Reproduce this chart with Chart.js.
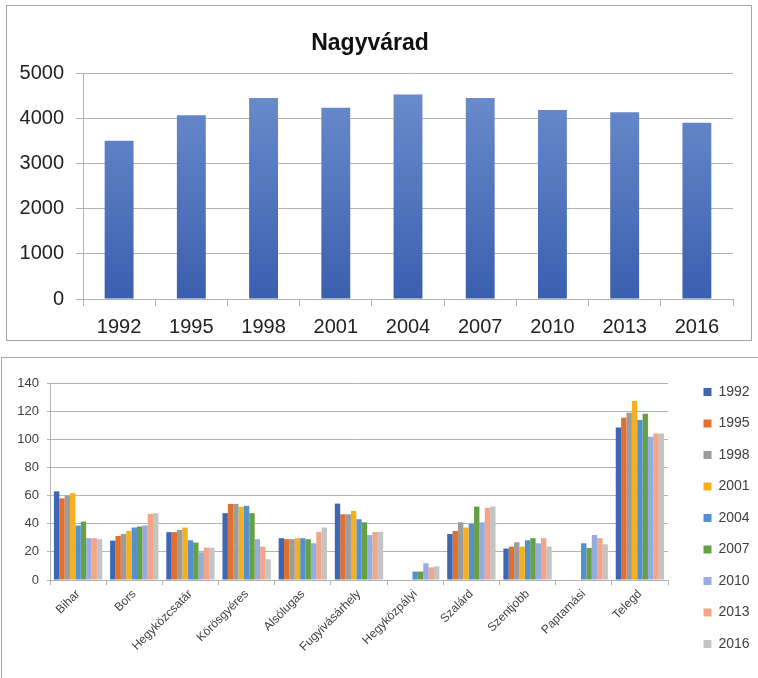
<!DOCTYPE html>
<html>
<head>
<meta charset="utf-8">
<script src="https://cdn.jsdelivr.net/npm/chart.js@4.4.1/dist/chart.umd.min.js"></script>
<style>
  html, body { margin: 0; padding: 0; background: #fff; overflow: hidden; width: 758px; height: 678px; }
  .panel { position: absolute; box-sizing: border-box; border: 1px solid #a6a6a6; }
  canvas { position: absolute; }
</style>
</head>
<body>
<div class="panel" style="left:6px;top:5px;width:746px;height:336px;"></div>
<div class="panel" style="left:1px;top:357px;width:800px;height:400px;"></div>
<canvas id="topChart" width="744" height="333" style="left:7px;top:6px;"></canvas>
<canvas id="bottomChart" width="756" height="320" style="left:2px;top:358px;"></canvas>
<script>
// Nagyvárad totals
var years = ["1992", "1995", "1998", "2001", "2004", "2007", "2010", "2013", "2016"];
var nagyvarad = [3510, 4075, 4460, 4240, 4535, 4460, 4195, 4140, 3910];

// settlements
var places = ["Bihar", "Bors", "Hegyközcsatár", "Körösgyéres", "Alsólugas", "Fugyivásárhely",
              "Hegyközpályi", "Szalárd", "Szentjobb", "Paptamási", "Telegd"];
var v1992 = [63, 28, 34, 47.5, 29.7, 54.3, null, 32.7, 22.3, null, 108.4];
var v1995 = [58, 31.3, 34, 54.1, 29, 46.7, null, 34.9, 23.7, null, 115.3];
var v1998 = [60, 32.7, 35.6, 54.1, 29, 46.7, null, 41, 26.8, null, 118.9];
var v2001 = [61.7, 34.9, 37.3, 52, 29.7, 49.1, null, 37.3, 23.7, null, 127.2];
var v2004 = [38.7, 37.3, 28.2, 52.7, 29.7, 43.2, 6, 39.9, 28.2, 26.1, 113.7];
var v2007 = [41.5, 38, 26.6, 47.5, 29, 41, 6, 52.2, 29.7, 22.8, 118.2];
var v2010 = [29.7, 38.7, 19.7, 29, 26.1, 32, 11.9, 41, 26.1, 32, 101.8];
var v2013 = [29.7, 47, 23, 23.7, 34.2, 34.2, 9, 51.3, 29.7, 29.7, 104.2];
var v2016 = [29, 47.5, 23, 14.7, 37.3, 34.2, 9.7, 52.2, 23.7, 25.4, 104.2];
var seriesValues = [v1992, v1995, v1998, v2001, v2004, v2007, v2010, v2013, v2016];
var seriesColors = ["#3f66b5", "#e0702e", "#9c9c9c", "#f4b020", "#5290cf", "#66a044", "#97abdf", "#f2a688", "#c4c4c4"];

var topTicks = [0, 1000, 2000, 3000, 4000, 5000];
var bottomTicks = [0, 20, 40, 60, 80, 100, 120, 140];

Chart.defaults.font.family = "'Liberation Sans', Arial, sans-serif";
Chart.defaults.color = "#404040";
Chart.defaults.animation = false;

var gridColor = "#b3b3b3";

new Chart(document.getElementById("topChart").getContext("2d"), {
    type: "bar",
    data: {
        labels: years,
        datasets: [{
            data: nagyvarad,
            backgroundColor: function (c) {
                var area = c.chart.chartArea;
                if (!area) return "#4a70bf";
                var g = c.chart.ctx.createLinearGradient(0, area.top, 0, area.bottom);
                g.addColorStop(0, "#6e8fce");
                g.addColorStop(1, "#3a5fae");
                return g;
            },
            barPercentage: 0.4,
            categoryPercentage: 1
        }]
    },
    options: {
        responsive: false,
        layout: { padding: { left: 0, right: 18, top: 0, bottom: 0 } },
        plugins: {
            legend: { display: false },
            tooltip: { enabled: false },
            title: {
                display: true,
                text: "Nagyvárad",
                color: "#111",
                font: { size: 23, weight: "bold" },
                padding: { top: 24, bottom: 16 }
            }
        },
        scales: {
            x: {
                afterFit: function (s) { s.height = 40; },
                grid: { offset: true, drawOnChartArea: false, tickLength: 7, color: gridColor },
                border: { color: gridColor },
                ticks: { font: { size: 20 }, padding: 9, color: "#222" }
            },
            y: {
                min: 0,
                max: 5000,
                afterFit: function (s) { s.width = 76; },
                afterBuildTicks: function (s) { s.ticks = topTicks.map(function (v) { return { value: v }; }); },
                grid: { color: gridColor, tickLength: 7 },
                border: { color: gridColor },
                ticks: {
                    font: { size: 20 },
                    padding: 12,
                    color: "#222",
                    callback: function (v) { return String(v); }
                }
            }
        }
    }
});

var legendWidth = {
    id: "legendWidth",
    beforeInit: function (chart) {
        var fit = chart.legend.fit;
        chart.legend.fit = function () {
            fit.bind(chart.legend)();
            this.width = 72;
        };
    }
};

new Chart(document.getElementById("bottomChart").getContext("2d"), {
    type: "bar",
    data: {
        labels: places,
        datasets: years.map(function (y, i) {
            return {
                label: y,
                data: seriesValues[i],
                backgroundColor: seriesColors[i],
                barPercentage: 1,
                categoryPercentage: 0.86
            };
        })
    },
    options: {
        responsive: false,
        layout: { padding: 0 },
        plugins: {
            tooltip: { enabled: false },
            title: {
                display: true,
                text: "",
                fullSize: false,
                font: { size: 10, lineHeight: 1.2 },
                padding: { top: 13, bottom: 0 }
            },
            legend: {
                position: "right",
                labels: {
                    boxWidth: 8,
                    boxHeight: 8,
                    padding: 17.5,
                    color: "#404040",
                    font: { size: 14 }
                }
            }
        },
        scales: {
            x: {
                afterFit: function (s) { s.height = 98; },
                grid: { offset: true, drawOnChartArea: false, tickLength: 5, color: gridColor },
                border: { color: gridColor },
                ticks: { font: { size: 12 }, minRotation: 45, maxRotation: 45, autoSkip: false, padding: 2 }
            },
            y: {
                min: 0,
                max: 140,
                afterFit: function (s) { s.width = 48; },
                afterBuildTicks: function (s) { s.ticks = bottomTicks.map(function (v) { return { value: v }; }); },
                grid: { color: gridColor, tickLength: 3 },
                border: { color: gridColor },
                ticks: { font: { size: 13 }, padding: 8 }
            },
            gap: {
                position: "right",
                afterFit: function (s) { s.width = 18; },
                grid: { display: false },
                border: { display: false },
                ticks: { display: false }
            }
        }
    },
    plugins: [legendWidth]
});
</script>
</body>
</html>
